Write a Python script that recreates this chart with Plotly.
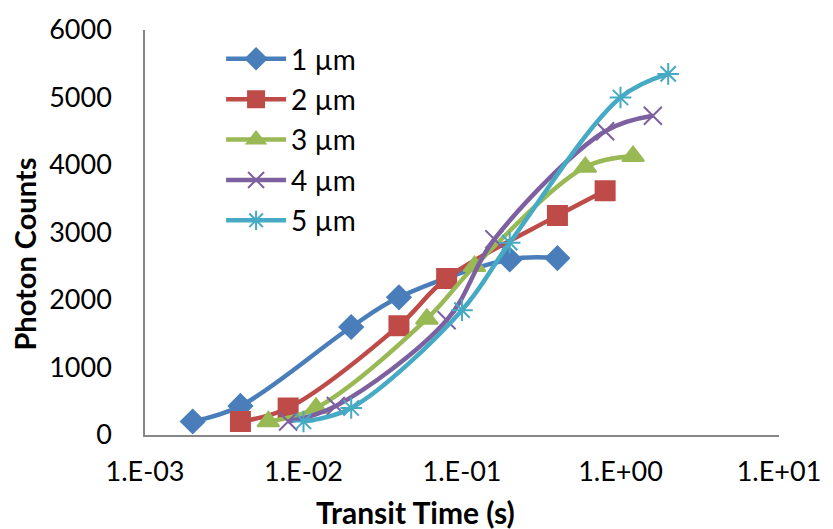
import plotly.graph_objects as go

names = ["1 µm", "2 µm", "3 µm", "4 µm", "5 µm"]
x1 = [0.002, 0.004, 0.02, 0.04, 0.2, 0.4]
y1 = [200, 430, 1600, 2040, 2600, 2620]
x2 = [0.004, 0.008, 0.04, 0.08, 0.4, 0.8]
y2 = [200, 400, 1620, 2320, 3250, 3620]
x3 = [0.006, 0.012, 0.06, 0.12, 0.6, 1.2]
y3 = [200, 400, 1720, 2500, 3970, 4130]
x4 = [0.008, 0.016, 0.08, 0.16, 0.8, 1.6]
y4 = [200, 430, 1700, 2900, 4500, 4730]
x5 = [0.01, 0.02, 0.1, 0.2, 1.0, 2.0]
y5 = [200, 400, 1850, 2850, 5000, 5350]

x_title = "Transit Time (s)"
y_title = "Photon Counts"

colors = ["#4A7EBB", "#BE4B48", "#98B954", "#7D60A0", "#46AAC5"]
symbols = ["diamond", "square", "triangle-up", "x-thin-open", "asterisk-open"]
sizes = [18, 19, 19, 18, 18]

fig = go.Figure()
for i, (xs, ys) in enumerate([(x1, y1), (x2, y2), (x3, y3), (x4, y4), (x5, y5)]):
    fig.add_trace(go.Scatter(
        x=xs, y=ys, name=names[i], mode="lines+markers",
        legendgroup=str(i),
        line=dict(color=colors[i], width=4.5, shape="spline", smoothing=1),
        marker=dict(symbol=symbols[i], size=sizes[i], color=colors[i],
                    line=dict(color=colors[i], width=2)),
    ))

font = "Lato, 'Open Sans', sans-serif"
W, H = 833, 529
ml, mr, mt, mb = 145, 47, 25, 94
pw, ph = W - ml - mr, H - mt - mb
fig.update_layout(
    width=W, height=H,
    margin=dict(l=ml, r=mr, t=mt, b=mb),
    paper_bgcolor="white", plot_bgcolor="white",
    font=dict(family=font, size=27, color="black"),
    showlegend=True,
    legend=dict(x=0.12, y=0.99, xanchor="left", yanchor="top",
                bgcolor="rgba(0,0,0,0)", font=dict(size=28),
                itemwidth=60, tracegroupgap=1),
    annotations=[
        dict(text="<b>" + x_title + "</b>", xref="paper", yref="paper",
             x=(418 - ml) / pw, y=-(513 - (H - mb)) / ph,
             xanchor="center", yanchor="middle", showarrow=False,
             font=dict(size=30)),
        dict(text="<b>" + y_title + "</b>", xref="paper", yref="paper",
             x=-(ml - 23) / pw, y=((H - mb) - 252) / ph, textangle=-90,
             xanchor="center", yanchor="middle", showarrow=False,
             font=dict(size=29)),
    ],
)
fig.update_xaxes(
    type="log", range=[-3, 1], showgrid=False, zeroline=False,
    showline=True, linecolor="#868686", linewidth=1.5,
    tickvals=[0.001, 0.01, 0.1, 1, 10],
    ticktext=["1.E-03", "1.E-02", "1.E-01", "1.E+00", "1.E+01"],
    ticks="", ticklabelstandoff=12,
)
fig.update_yaxes(
    range=[0, 6000], showgrid=False, zeroline=False,
    showline=True, linecolor="#868686", linewidth=1.5,
    tickvals=[0, 1000, 2000, 3000, 4000, 5000, 6000],
    ticks="", ticklabelstandoff=26,
)
fig.write_html("out.html")
